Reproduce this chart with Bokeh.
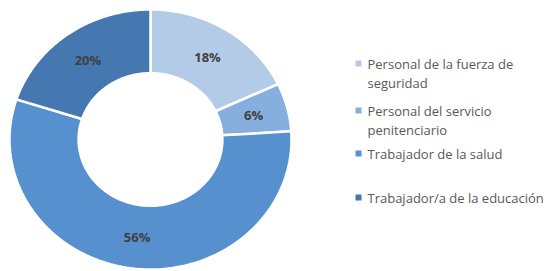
import numpy as np
from bokeh.plotting import figure
from bokeh.models import Range1d
from bokeh.core.properties import value
from bokeh.embed import file_html
from bokeh.resources import INLINE

# ---- data ----
categories = ["Personal de la fuerza de seguridad",
              "Personal del servicio penitenciario",
              "Trabajador de la salud",
              "Trabajador/a de la educación"]
values = [18, 6, 56, 20]
legend_lines = [["Personal de la fuerza de", "seguridad"],
                ["Personal del servicio", "penitenciario"],
                ["Trabajador de la salud"],
                ["Trabajador/a de la educación"]]
colors = ["#B4CBE8", "#86AEDE", "#5690CE", "#4577B0"]

# ---- layout ----
W, H = 549, 270
cx_px, cy_px = 150, 139
rx, ry = 141.0, 130.0
inner = 0.51

def to_data(px, py):
    return ((px - cx_px) / rx, (cy_px - py) / ry)

p = figure(width=W, height=H, output_backend="svg", toolbar_location=None,
           x_range=Range1d(-cx_px / rx, (W - cx_px) / rx),
           y_range=Range1d(-(H - cy_px) / ry, cy_px / ry),
           min_border=0, outline_line_color=None)
p.axis.visible = False
p.grid.visible = False
p.background_fill_color = "white"
p.border_fill_color = "white"

total = float(sum(values))
fracs = np.array(values) / total
ends = np.cumsum(fracs)
starts = ends - fracs

xs, ys, lx, ly, ltxt = [], [], [], [], []
for s, e, v in zip(starts, ends, values):
    th = np.linspace(s, e, 120) * 2 * np.pi
    ox, oy = np.sin(th), np.cos(th)
    ix, iy = inner * np.sin(th[::-1]), inner * np.cos(th[::-1])
    xs.append(list(np.concatenate([ox, ix])))
    ys.append(list(np.concatenate([oy, iy])))
    m = (s + e) / 2 * 2 * np.pi
    rm = (1 + inner) / 2
    lx.append(rm * np.sin(m))
    ly.append(rm * np.cos(m))
    ltxt.append(f"{v}%")

p.patches(xs, ys, fill_color=colors, line_color="white", line_width=2.5)
p.text(lx, ly, text=ltxt, text_font=value("Open Sans"), text_font_size="13px",
       text_font_style="bold", text_color="#404040",
       text_align="center", text_baseline="middle")

# ---- legend ----
item_y = [63, 110, 153, 197]
line_gap = 19
mx_px, tx_px = 358, 367
for lines, col, y0 in zip(legend_lines, colors, item_y):
    mx, my = to_data(mx_px, y0)
    p.scatter([mx], [my], marker="square", size=6, fill_color=col, line_color=None)
    for k, t in enumerate(lines):
        tx, ty = to_data(tx_px, y0 + k * line_gap)
        p.text([tx], [ty], text=[t], text_font=value("Open Sans"),
               text_font_size="13px", text_color="#595959",
               text_align="left", text_baseline="middle")

open("out.html", "w").write(file_html(p, INLINE))
